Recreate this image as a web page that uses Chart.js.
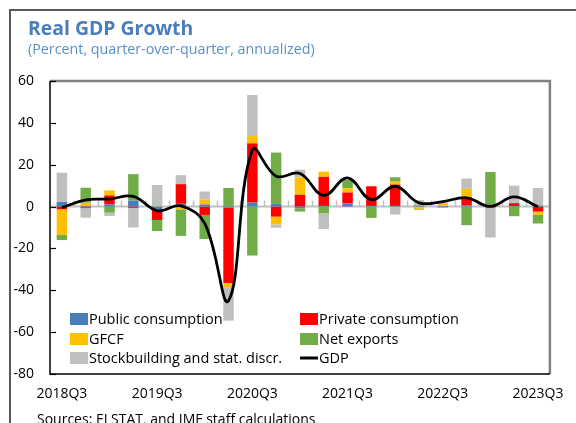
<!DOCTYPE html>
<html>
<head>
<meta charset="utf-8">
<script src="https://cdn.jsdelivr.net/npm/chart.js@4.4.1/dist/chart.umd.min.js"></script>
<style>
  html, body { margin: 0; padding: 0; width: 576px; height: 423px; overflow: hidden; background: #fff; }
  #frame { position: absolute; left: 9px; top: 9px; width: 700px; height: 600px; border-left: 2px solid #595959; border-top: 2px solid #595959; }
  #c { position: absolute; left: 0; top: 0; }
  .t { position: absolute; font-family: "Open Sans", "Noto Sans", sans-serif; white-space: nowrap; }
  #title { left: 28px; top: 14px; font-size: 19.4px; font-weight: bold; color: #4A7EBB; }
  #sub { left: 28px; top: 39px; font-size: 14.3px; color: #5B8FCB; }
  #src { left: 37px; top: 409px; font-size: 14px; color: #000; }
</style>
</head>
<body>
<div id="frame"></div>
<canvas id="c" width="576" height="423"></canvas>
<div class="t" id="title">Real GDP Growth</div>
<div class="t" id="sub">(Percent, quarter-over-quarter, annualized)</div>
<div class="t" id="src">Sources: ELSTAT, and IMF staff calculations</div>
<script>
const quarters = ['2018Q3','2018Q4','2019Q1','2019Q2','2019Q3','2019Q4','2020Q1','2020Q2','2020Q3','2020Q4','2021Q1','2021Q2','2021Q3','2021Q4','2022Q1','2022Q2','2022Q3','2022Q4','2023Q1','2023Q2','2023Q3'];
const publicCons  = [2.2, -0.8, 1.0, 2.9, -1.6, 1.3, 1.0, -0.5, 1.9, 1.3, -0.8, 0.3, 1.6, 0.3, 0.3, 0.5, 0.3, 0.5, 0.3, 0.3, 0.5];
const privateCons = [-1.3, 0.2, 4.3, -0.6, -4.8, 9.4, -4.0, -36.0, 28.3, -4.8, 5.6, 13.9, 5.1, 9.4, 10.2, 0, 0, 4.0, -0.5, 1.3, -2.4];
const gfcf        = [-12.3, 1.6, 2.4, 0, 0.3, -1.3, 2.4, -2.0, 3.5, -3.7, 8.3, 2.5, 2.1, 0, 1.4, -1.2, 1.5, 4.0, 0, 0, -1.4];
const netExports  = [-2.4, 7.2, -2.9, 12.6, -5.3, -12.7, -11.5, 8.9, -23.4, 24.5, -1.6, -3.2, 4.0, -5.4, 2.1, -0.3, -0.5, -8.9, 16.2, -4.6, -4.3];
const stockbuild  = [14.0, -4.5, -1.6, -9.4, 10.0, 4.3, 3.8, -16.0, 19.6, -1.6, 3.7, -7.5, 0, 0, -3.8, 2.6, 0.8, 4.9, -14.3, 8.4, 8.4];
const gdp         = [-0.5, 3.2, 3.6, 4.9, -2.0, 0.3, -8.0, -45.0, 27.0, 14.5, 15.8, 5.3, 13.7, 3.3, 9.7, 1.8, 2.4, 4.2, 0.1, 4.6, -0.1];
const yTicks = [-80, -60, -40, -20, 0, 20, 40, 60];
const xLabelEvery = 4;

const FONT = '"Open Sans", "Noto Sans", sans-serif';
const colors = { pub: '#4A7EBB', priv: '#FF0000', gfcf: '#FFC000', nx: '#70AD47', stock: '#BFBFBF' };

const legendItems = [
  { label: 'Public consumption', color: colors.pub, col: 0, row: 0 },
  { label: 'Private consumption', color: colors.priv, col: 1, row: 0 },
  { label: 'GFCF', color: colors.gfcf, col: 0, row: 1 },
  { label: 'Net exports', color: colors.nx, col: 1, row: 1 },
  { label: 'Stockbuilding and stat. discr.', color: colors.stock, col: 0, row: 2 },
  { label: 'GDP', color: '#000', col: 1, row: 2, line: true }
];

const decor = {
  id: 'decor',
  beforeDatasetsDraw(chart) {
    const { ctx, chartArea: a, scales: { x, y } } = chart;
    ctx.save();
    const y0 = y.getPixelForValue(0);
    ctx.strokeStyle = '#BFBFBF';
    ctx.lineWidth = 2;
    ctx.beginPath(); ctx.moveTo(a.left, y0); ctx.lineTo(a.right, y0); ctx.stroke();
    const w = (a.right - a.left) / quarters.length;
    ctx.lineWidth = 1.5;
    for (let i = 1; i < quarters.length; i++) {
      const px = Math.round(x.getPixelForValue(i) - w / 2) + 0.5;
      ctx.beginPath(); ctx.moveTo(px, y0 - 6); ctx.lineTo(px, y0); ctx.stroke();
    }
    ctx.restore();
  },
  afterDraw(chart) {
    const { ctx, chartArea: a, scales: { y } } = chart;
    ctx.save();
    ctx.strokeStyle = '#808080';
    ctx.lineWidth = 2.5;
    ctx.beginPath(); ctx.moveTo(a.left, a.top); ctx.lineTo(a.right, a.top); ctx.lineTo(a.right, a.bottom); ctx.stroke();
    ctx.strokeStyle = '#000';
    ctx.lineWidth = 1.5;
    ctx.beginPath(); ctx.moveTo(a.left, a.top); ctx.lineTo(a.left, a.bottom); ctx.lineTo(a.right, a.bottom); ctx.stroke();
    ctx.lineWidth = 1.2;
    yTicks.forEach(v => {
      const py = Math.round(y.getPixelForValue(v)) + 0.5;
      ctx.beginPath(); ctx.moveTo(a.left, py); ctx.lineTo(a.left + 6, py); ctx.stroke();
    });
    ctx.font = '14.5px ' + FONT;
    ctx.textBaseline = 'middle';
    const colX = [a.left + 20, a.left + 250];
    const rowY = [a.top + 238, a.top + 258, a.top + 277];
    legendItems.forEach(it => {
      const bx = colX[it.col], by = rowY[it.row];
      if (it.line) {
        ctx.strokeStyle = '#000'; ctx.lineWidth = 3;
        ctx.beginPath(); ctx.moveTo(bx, by); ctx.lineTo(bx + 18, by); ctx.stroke();
      } else {
        ctx.fillStyle = it.color;
        ctx.fillRect(bx, by - 6, 18, 12);
      }
      ctx.fillStyle = '#000';
      ctx.fillText(it.label, bx + 19, by + 1);
    });
    ctx.restore();
  }
};

function barDs(label, data, color) {
  return {
    type: 'bar', label, data, backgroundColor: color,
    borderWidth: 0,
    stack: 'components', order: 1,
    categoryPercentage: 1.0, barPercentage: 0.44
  };
}

new Chart(document.getElementById('c'), {
  data: {
    labels: quarters,
    datasets: [
      { type: 'line', label: 'GDP', data: gdp, borderColor: '#000', borderWidth: 2.8, pointRadius: 0, tension: 0.4, fill: false, stack: 'gdp', order: 0 },
      barDs('Public consumption', publicCons, colors.pub),
      barDs('Private consumption', privateCons, colors.priv),
      barDs('GFCF', gfcf, colors.gfcf),
      barDs('Net exports', netExports, colors.nx),
      barDs('Stockbuilding and stat. discr.', stockbuild, colors.stock)
    ]
  },
  options: {
    responsive: false,
    animation: false,
    devicePixelRatio: 1,
    layout: { padding: { left: 0, top: 81, right: 23, bottom: 0 } },
    plugins: { legend: { display: false }, title: { display: false }, tooltip: { enabled: false } },
    scales: {
      x: {
        stacked: true,
        offset: true,
        grid: { display: false, drawTicks: false },
        border: { display: false },
        ticks: {
          autoSkip: false, maxRotation: 0, minRotation: 0, padding: 12,
          color: '#000', font: { family: FONT, size: 14 },
          callback: function (v, i) { return i % xLabelEvery === 0 ? quarters[i] : ''; }
        },
        afterFit(s) { s.height = 49; }
      },
      y: {
        stacked: true,
        min: -80, max: 60,
        grid: { display: false, drawTicks: false },
        border: { display: false },
        afterBuildTicks(s) { s.ticks = yTicks.map(v => ({ value: v })); },
        ticks: { color: '#000', padding: 16, font: { family: FONT, size: 14 } },
        afterFit(s) { s.width = 50; }
      }
    }
  },
  plugins: [decor]
});
</script>
</body>
</html>
